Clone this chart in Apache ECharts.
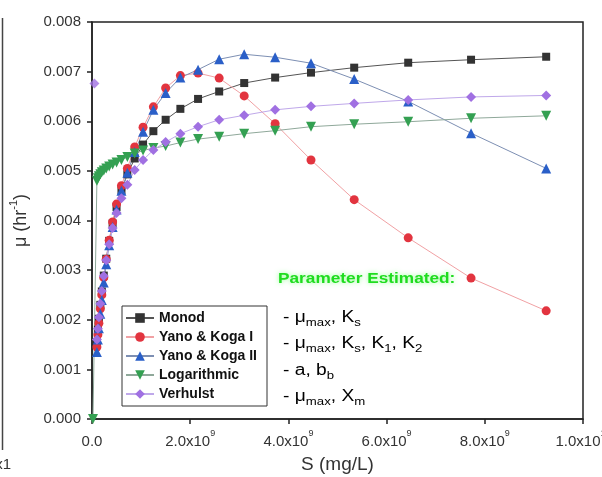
<!DOCTYPE html>
<html>
<head>
<meta charset="utf-8">
<script src="https://cdn.jsdelivr.net/npm/echarts@6/dist/echarts.min.js"></script>
<style>
  html, body { margin: 0; padding: 0; background: #fff; }
  #chart { width: 602px; height: 477px; }
</style>
</head>
<body>
<div id="chart"></div>
<script>
// Substrate concentration S (mg/L) shared by the model curves
const substrate = [0.10e9, 0.12e9, 0.14e9, 0.17e9, 0.20e9, 0.24e9, 0.29e9, 0.35e9, 0.42e9, 0.50e9,
  0.60e9, 0.72e9, 0.87e9, 1.04e9, 1.25e9, 1.50e9, 1.80e9, 2.16e9, 2.59e9, 3.10e9,
  3.73e9, 4.46e9, 5.34e9, 6.44e9, 7.72e9, 9.25e9];

// Specific growth rate μ (hr^-1) for each model
const monod = [0.00155, 0.00180, 0.00202, 0.00230, 0.00257, 0.00289, 0.00323, 0.00359, 0.00394, 0.00427,
  0.00461, 0.00493, 0.00525, 0.00553, 0.00580, 0.00603, 0.00625, 0.00645, 0.00660, 0.00677,
  0.00688, 0.00698, 0.00708, 0.00718, 0.00724, 0.00730];
const yanoKogaI = [0.00145, 0.00170, 0.00193, 0.00222, 0.00250, 0.00285, 0.00322, 0.00360, 0.00397, 0.00433,
  0.00470, 0.00505, 0.00548, 0.00588, 0.00629, 0.00667, 0.00692, 0.00697, 0.00687, 0.00651,
  0.00595, 0.00522, 0.00442, 0.00365, 0.00284, 0.00218];
const yanoKogaII = [0.00135, 0.00160, 0.00183, 0.00212, 0.00240, 0.00275, 0.00312, 0.00350, 0.00387, 0.00422,
  0.00460, 0.00496, 0.00538, 0.00579, 0.00623, 0.00657, 0.00688, 0.00704, 0.00725, 0.00735,
  0.00729, 0.00717, 0.00685, 0.00640, 0.00576, 0.00505];
const verhulst = [0.00160, 0.00182, 0.00205, 0.00232, 0.00258, 0.00288, 0.00320, 0.00352, 0.00385, 0.00415,
  0.00445, 0.00472, 0.00502, 0.00522, 0.00542, 0.00558, 0.00575, 0.00589, 0.00603, 0.00612,
  0.00623, 0.00630, 0.00636, 0.00643, 0.00649, 0.00652];

// The logarithmic model also has a point at very low S
const logSubstrate = [0.02e9, 0.10e9, 0.12e9, 0.14e9, 0.17e9, 0.20e9, 0.24e9, 0.29e9, 0.35e9, 0.42e9, 0.50e9,
  0.60e9, 0.72e9, 0.87e9, 1.04e9, 1.25e9, 1.50e9, 1.80e9, 2.16e9, 2.59e9, 3.10e9,
  3.73e9, 4.46e9, 5.34e9, 6.44e9, 7.72e9, 9.25e9];
const logarithmic = [0.00000, 0.00480, 0.00485, 0.00489, 0.00493, 0.00497, 0.00501, 0.00505, 0.00509, 0.00513, 0.00517,
  0.00522, 0.00528, 0.00535, 0.00541, 0.00546, 0.00550, 0.00557, 0.00564, 0.00569, 0.00575,
  0.00581, 0.00589, 0.00594, 0.00599, 0.00606, 0.00611];

// Lone Verhulst point sitting on the μ axis
const verhulstAxisPoint = [[0.05e9, 0.00676]];

// Axis ticks
const xTicks = { min: 0, max: 1.0e10, interval: 2.0e9 };
const yTicks = { min: 0, max: 0.008, interval: 0.001 };

const seriesNames = ['Monod', 'Yano & Koga I', 'Yano & Koga II', 'Logarithmic', 'Verhulst'];

const FONT = '"Liberation Sans", Arial, Helvetica, sans-serif';

function pairs(xs, ys) { return xs.map((x, i) => [x, ys[i]]); }

function sciLabel(v) {
  if (v === 0) return '{n|0.0}';
  const e = Math.floor(Math.log10(v) + 1e-9);
  const m = v / Math.pow(10, e);
  return '{n|' + m.toFixed(1) + 'x10}{s|' + e + '}';
}

const downTriangle = 'path://M0,0 L20,0 L10,17.3 Z';

function lineSeries(name, data, symbol, size, markColor, lineColor, extra) {
  return Object.assign({
    name: name,
    type: 'line',
    data: data,
    symbol: symbol,
    symbolSize: size,
    showSymbol: true,
    itemStyle: { color: markColor, borderWidth: 0 },
    lineStyle: { color: lineColor, width: 1 },
    emphasis: { disabled: true },
    animation: false,
    clip: true
  }, extra || {});
}

const chart = echarts.init(document.getElementById('chart'), null, { renderer: 'canvas' });

// main text hangs from the top of the line, subscripts sit on its bottom
const subRich = {
  m: { fontSize: 16, fontFamily: FONT, color: '#333', lineHeight: 14, verticalAlign: 'top' },
  s: { fontSize: 11, fontFamily: FONT, color: '#333', lineHeight: 18, verticalAlign: 'bottom' }
};

function paramLine(text, y) {
  return {
    type: 'text', x: 283, y: y, scaleX: 1.2,
    style: { text: text, rich: subRich, verticalAlign: 'middle', align: 'left' }
  };
}

chart.setOption({
  backgroundColor: '#ffffff',
  animation: false,
  grid: {
    left: 92, right: 19, top: 22, bottom: 58,
    show: true, borderColor: '#222', borderWidth: 1.5,
    outerBoundsMode: 'none', containLabel: false
  },
  xAxis: {
    type: 'value', min: xTicks.min, max: xTicks.max, interval: xTicks.interval,
    name: 'S (mg/L)', nameLocation: 'middle', nameGap: 36, nameMoveOverlap: false,
    nameTextStyle: { fontFamily: FONT, fontSize: 19, color: '#333' },
    axisLine: { show: true, onZero: false, lineStyle: { color: '#222', width: 1.5 } },
    axisTick: { show: true, inside: false, length: 5, lineStyle: { color: '#222', width: 1.5 } },
    splitLine: { show: false },
    axisLabel: {
      margin: 10, formatter: sciLabel, showMaxLabel: true, hideOverlap: false,
      rich: {
        n: { fontFamily: FONT, fontSize: 15, color: '#333', lineHeight: 20, verticalAlign: 'bottom' },
        s: { fontFamily: FONT, fontSize: 9, color: '#333', lineHeight: 11, verticalAlign: 'top' }
      }
    }
  },
  yAxis: {
    type: 'value', min: yTicks.min, max: yTicks.max, interval: yTicks.interval,
    name: '{n|μ (hr}{s|-1}{n|)}', nameLocation: 'middle', nameGap: 62, nameMoveOverlap: false,
    nameTextStyle: {
      rich: {
        n: { fontFamily: FONT, fontSize: 18, color: '#333', lineHeight: 22, verticalAlign: 'bottom' },
        s: { fontFamily: FONT, fontSize: 11, color: '#333', lineHeight: 12, verticalAlign: 'top' }
      }
    },
    axisLine: { show: true, onZero: false, lineStyle: { color: '#222', width: 1.5 } },
    axisTick: { show: true, inside: false, length: 5, lineStyle: { color: '#222', width: 1.5 } },
    splitLine: { show: false },
    axisLabel: {
      margin: 11, fontFamily: FONT, fontSize: 15, color: '#333',
      showMaxLabel: true, showMinLabel: true, hideOverlap: false,
      formatter: v => v.toFixed(3)
    }
  },
  legend: {
    left: 122, top: 306, orient: 'vertical',
    itemWidth: 28, itemHeight: 12, itemGap: 5,
    padding: [5, 10, 5, 3],
    borderColor: '#333', borderWidth: 1, backgroundColor: '#fff',
    textStyle: { fontFamily: FONT, fontWeight: 'bold', fontSize: 14, color: '#111' },
    data: seriesNames,
    selectedMode: false
  },
  series: [
    lineSeries(seriesNames[0], pairs(substrate, monod), 'rect', 8, '#333333', '#555555'),
    lineSeries(seriesNames[1], pairs(substrate, yanoKogaI), 'circle', 9, '#e2343f', '#f1a1a4'),
    lineSeries(seriesNames[2], pairs(substrate, yanoKogaII), 'triangle', 10, '#2a5fc8', '#7d8fb3'),
    lineSeries(seriesNames[3], pairs(logSubstrate, logarithmic), downTriangle, 10, '#34a052', '#8fa89a'),
    lineSeries(seriesNames[4], pairs(substrate, verhulst), 'diamond', 10, '#a070e2', '#bfa8ea'),
    {
      type: 'scatter', data: verhulstAxisPoint, symbol: 'diamond', symbolSize: 10,
      itemStyle: { color: '#a070e2' }, emphasis: { disabled: true }, clip: true, z: 1
    }
  ],
  graphic: [
    // frame edge and clipped tick label of the neighbouring panel
    { type: 'line', shape: { x1: 2.5, y1: 18, x2: 2.5, y2: 450 }, style: { stroke: '#444', lineWidth: 1.5 } },
    {
      type: 'text', x: 11, y: 465,
      style: { text: '1.0x1', font: '15px ' + FONT, fill: '#333', align: 'right', verticalAlign: 'middle' }
    },
    {
      type: 'text', x: 278, y: 279, scaleX: 1.15,
      style: {
        text: 'Parameter Estimated:', font: 'bold 15px ' + FONT, fill: '#1fdc1f',
        align: 'left', verticalAlign: 'middle',
        textShadowColor: 'rgba(60,255,60,0.55)', textShadowBlur: 5
      }
    },
    paramLine('{m|- μ}{s|max}{m|, K}{s|s}', 319),
    paramLine('{m|- μ}{s|max}{m|, K}{s|s}{m|, K}{s|1}{m|, K}{s|2}', 345),
    paramLine('{m|- a, b}{s|b}', 372),
    paramLine('{m|- μ}{s|max}{m|, X}{s|m}', 398)
  ]
});
</script>
</body>
</html>
